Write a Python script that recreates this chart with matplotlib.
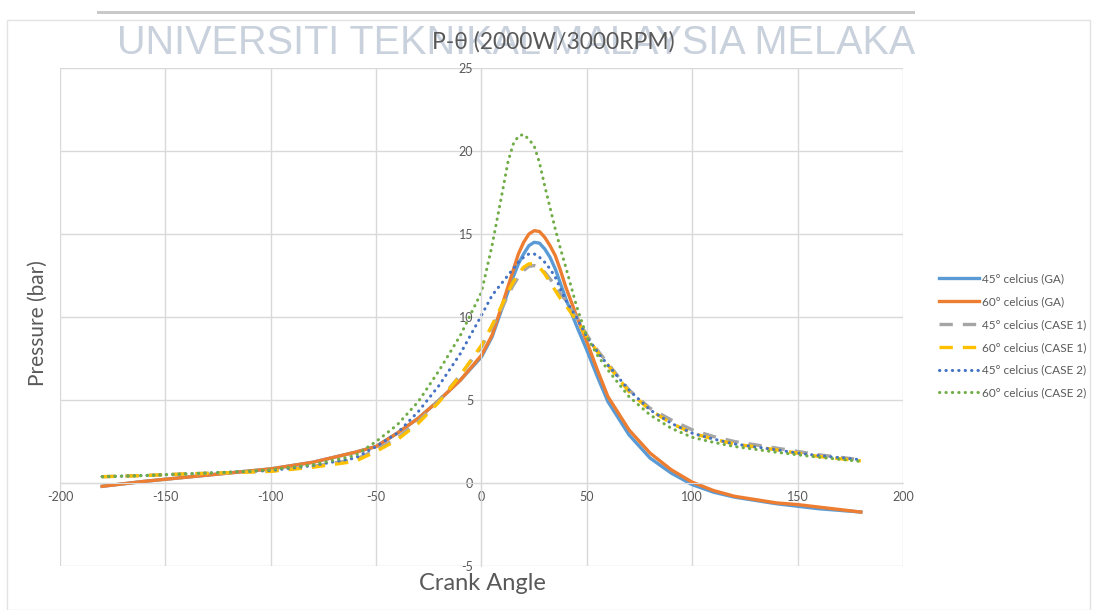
import matplotlib.pyplot as plt
from matplotlib.patches import Rectangle

plt.rcParams["axes.unicode_minus"] = False

# --------------------------------------------------
# Data
# --------------------------------------------------
crank_angle = [-180, -160, -140, -120, -100, -80, -60, -50, -40, -30, -20, -10,
               0, 5, 10, 12.5, 15, 17.5, 20, 22.5, 25, 27.5, 30, 32.5, 35, 37.5, 40,
               45, 50, 55, 60, 70, 80, 90, 100, 110, 120, 140, 150, 160, 180]

p45_ga = [-0.2, 0.1, 0.35, 0.6, 0.85, 1.25, 1.85, 2.2, 3.0, 3.9, 5.0, 6.2,
          7.6, 8.8, 10.6, 11.5, 12.4, 13.2, 13.8, 14.3, 14.5, 14.45, 14.1, 13.6, 12.9, 12.0, 11.1,
          9.5, 8.0, 6.4, 4.9, 2.9, 1.5, 0.6, -0.1, -0.55, -0.85, -1.25, -1.4, -1.55, -1.75]

p60_ga = [-0.2, 0.1, 0.35, 0.6, 0.85, 1.25, 1.85, 2.2, 3.0, 3.9, 5.0, 6.2,
          7.7, 8.9, 10.8, 11.8, 12.8, 13.8, 14.5, 15.0, 15.2, 15.15, 14.8, 14.3, 13.7, 12.8, 11.8,
          10.1, 8.5, 6.8, 5.2, 3.2, 1.8, 0.8, 0.05, -0.45, -0.8, -1.2, -1.3, -1.45, -1.75]

p45_case1 = [0.38, 0.45, 0.55, 0.62, 0.72, 1.0, 1.4, 2.0, 2.7, 3.7, 5.0, 6.5,
             8.2, 9.4, 10.6, 11.3, 11.9, 12.4, 12.8, 13.05, 13.1, 13.0, 12.7, 12.3, 11.9, 11.4, 11.0,
             10.0, 8.9, 8.0, 7.2, 5.6, 4.5, 3.8, 3.2, 2.8, 2.5, 2.1, 1.9, 1.7, 1.4]

p60_case1 = [0.38, 0.45, 0.55, 0.62, 0.7, 0.95, 1.3, 1.9, 2.6, 3.6, 4.9, 6.5,
             8.3, 9.5, 10.8, 11.5, 12.1, 12.6, 13.0, 13.2, 13.2, 13.0, 12.6, 12.1, 11.6, 11.1, 10.7,
             9.8, 8.8, 7.9, 7.1, 5.5, 4.4, 3.6, 3.0, 2.65, 2.35, 2.0, 1.8, 1.6, 1.33]

p45_case2 = [0.38, 0.45, 0.55, 0.65, 0.75, 1.05, 1.5, 2.2, 3.0, 4.3, 5.9, 7.8,
             10.1, 11.3, 12.1, 12.5, 12.9, 13.3, 13.6, 13.8, 13.8, 13.6, 13.3, 12.9, 12.4, 11.7, 11.0,
             10.0, 8.8, 7.9, 7.1, 5.6, 4.4, 3.6, 3.0, 2.65, 2.35, 2.0, 1.8, 1.65, 1.4]

p60_case2 = [0.38, 0.45, 0.55, 0.65, 0.8, 1.1, 1.65, 2.5, 3.5, 4.9, 6.8, 8.9,
             11.5, 14.3, 17.6, 19.3, 20.4, 20.9, 21.0, 20.7, 20.3, 19.3, 17.9, 16.6, 15.3, 14.1, 13.0,
             10.7, 8.8, 7.7, 6.8, 5.2, 4.1, 3.3, 2.75, 2.45, 2.2, 1.85, 1.7, 1.55, 1.3]

x_ticks = [-200, -150, -100, -50, 0, 50, 100, 150, 200]
y_ticks = [-5, 0, 5, 10, 15, 20, 25]

FONT = ["Lato", "DejaVu Sans"]
GRID = "#d9d9d9"
TEXT = "#595959"

# --------------------------------------------------
# Figure
# --------------------------------------------------
fig = plt.figure(figsize=(10.98, 6.10), dpi=100)
W, H = 1098, 610

# page decorations (chart frame + watermark)
fig.patches.append(Rectangle((7 / W, 0), (1090 - 7) / W, 1 - 20 / H, transform=fig.transFigure,
                             fill=False, edgecolor="#e3e3e3", linewidth=1))
fig.patches.append(Rectangle((97 / W, 1 - 14 / H), (915 - 97) / W, 3 / H, transform=fig.transFigure,
                             facecolor="#c9c9c9", edgecolor="none"))
fig.text(516 / W, 1 - 43 / H, "UNIVERSITI TEKNIKAL MALAYSIA MELAKA", ha="center", va="center",
         fontsize=28.5, color="#c9d1dd", family=["Liberation Sans Narrow", "Liberation Sans"], zorder=0)

ax = fig.add_axes([60 / W, 1 - 566 / H, (903 - 60) / W, (566 - 68) / H])
ax.patch.set_alpha(0)

ax.plot(crank_angle, p45_ga, color="#5b9bd5", lw=2.4, label="45° celcius (GA)")
ax.plot(crank_angle, p60_ga, color="#ed7d31", lw=2.4, label="60° celcius (GA)")
ax.plot(crank_angle, p45_case1, color="#a5a5a5", lw=2.4, ls=(0, (4, 3)), label="45° celcius (CASE 1)")
ax.plot(crank_angle, p60_case1, color="#ffc000", lw=2.4, ls=(0, (4, 3)), label="60° celcius (CASE 1)")
ax.plot(crank_angle, p45_case2, color="#4472c4", lw=2.2, ls=(0, (0.1, 2)), dash_capstyle="round",
        label="45° celcius (CASE 2)")
ax.plot(crank_angle, p60_case2, color="#70ad47", lw=2.2, ls=(0, (0.1, 2)), dash_capstyle="round",
        label="60° celcius (CASE 2)")

ax.set_xlim(-200, 200)
ax.set_ylim(-5, 25)
ax.set_xticks(x_ticks)
ax.set_yticks(y_ticks)
ax.grid(True, color=GRID, lw=1)
ax.set_axisbelow(True)

for side in ["top", "right"]:
    ax.spines[side].set_visible(False)
ax.spines["left"].set_position(("data", 0))
ax.spines["bottom"].set_position(("data", 0))
ax.spines["left"].set_color(GRID)
ax.spines["bottom"].set_color(GRID)
ax.tick_params(length=0, labelsize=9, labelcolor=TEXT, pad=6)
for lab in ax.get_xticklabels() + ax.get_yticklabels():
    lab.set_family(FONT)

# --------------------------------------------------
# Titles, labels, legend
# --------------------------------------------------
fig.text(553 / W, 1 - 42 / H, "P-θ (2000W/3000RPM)", ha="center", va="center",
         fontsize=16.5, color=TEXT, family=FONT)
fig.text(38 / W, 1 - 323 / H, "Pressure (bar)", ha="center", va="center", rotation=90,
         fontsize=15, color=TEXT, family=FONT)
fig.text(482 / W, 1 - 583 / H, "Crank Angle", ha="center", va="center",
         fontsize=17, color=TEXT, family=FONT)

leg = ax.legend(loc="center left", bbox_to_anchor=(928 / W, 1 - 336 / H),
                bbox_transform=fig.transFigure, frameon=False,
                handlelength=3.4, handletextpad=0.3, labelspacing=1.0,
                prop={"family": FONT, "size": 8.5})
for t in leg.get_texts():
    t.set_color(TEXT)

fig.savefig("out.png", dpi=100)
